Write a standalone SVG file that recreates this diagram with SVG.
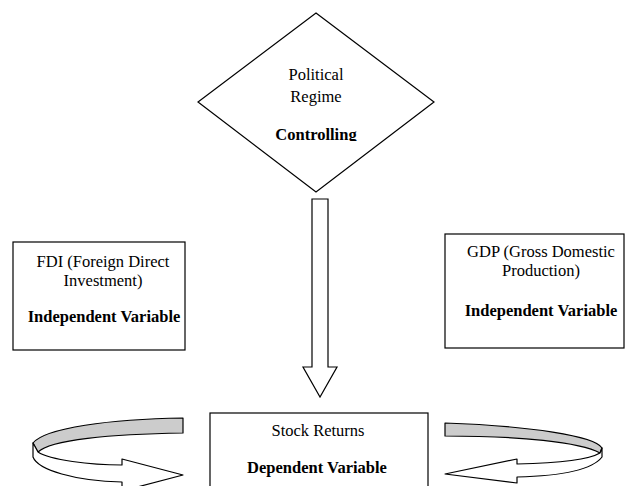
<svg xmlns="http://www.w3.org/2000/svg" width="625" height="486" viewBox="0 0 625 486">
<style>
.shape{fill:#fff;stroke:#000;stroke-width:1.2}
.band{fill:#cccccc;stroke:#000;stroke-width:1.2;stroke-linejoin:round}
text{font-family:'Liberation Serif','DejaVu Serif',serif;font-size:16.5px;fill:#000;text-anchor:middle}
.b{font-weight:bold}
</style>
<defs>
<clipPath id="clipCtrl"><rect x="200" y="120" width="230" height="21"/></clipPath>
</defs>
<rect width="625" height="486" fill="#fff"/>
<g id="political-regime" font-family="Liberation Serif, DejaVu Serif, serif">
<polygon class="shape" points="316,13 434,102 316,192 198,102"/>
<text x="316" y="80">Political</text>
<text x="316" y="102">Regime</text>
<text class="b" x="316" y="140" clip-path="url(#clipCtrl)">Controlling</text>
</g>
<g id="fdi">
<rect class="shape" x="13" y="242" width="172" height="108"/>
<text x="103" y="267">FDI (Foreign Direct</text>
<text x="103" y="286">Investment)</text>
<text class="b" x="104" y="322">Independent Variable</text>
</g>
<g id="gdp">
<rect class="shape" x="445" y="234" width="179" height="114"/>
<text x="541" y="257">GDP (Gross Domestic</text>
<text x="541" y="276">Production)</text>
<text class="b" x="541" y="316">Independent Variable</text>
</g>
<g id="stock-returns">
<rect class="shape" x="210" y="413" width="218" height="90"/>
<text x="318" y="436">Stock Returns</text>
<text class="b" x="317" y="473">Dependent Variable</text>
</g>
<g id="connectors">
<path class="shape" d="M312,199 H328 V367 H337 L320,397 L303,367 H312 Z"/>
<path class="band" d="M183,418 C110,419 45,428 33,443 L38,452 C50,440 110,434 183,433 Z"/>
<path class="shape" d="M33,443 L33,457 C38,470 75,481 122,482 L122,491 L183,475 L122,459 L122,465 C90,465 50,460 38,452 Z" stroke-linejoin="round"/>
<path class="band" d="M445,423 C530,426 595,436 602,448 L600,453 C580,442 520,436 445,436 Z"/>
<path class="shape" d="M602,448 L602,457 C592,470 560,476 517,477 L517,483 L445,474 L517,459 L517,464 C560,463 590,459 600,453 Z" stroke-linejoin="round"/>
</g>
</svg>
